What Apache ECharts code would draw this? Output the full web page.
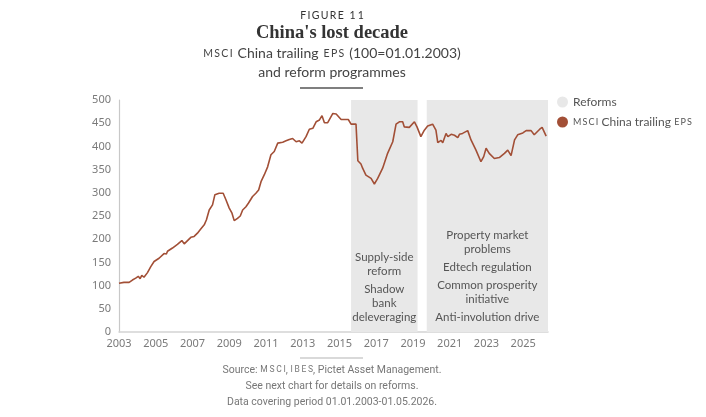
<!DOCTYPE html>
<html>
<head>
    <meta charset="UTF-8">
    <title>China's lost decade</title>
    <style type="text/css">
        body{
            margin:0;
            padding:0;
            background-color:white;
        }
        #main{
            width:706px;
            height:417px;
        }
    </style>
</head>
<body>
<div id="main"></div>
<script src="https://cdn.jsdelivr.net/npm/echarts@6/dist/echarts.min.js"></script>
<script type="text/javascript">

    // time as decimal years
    var years = [
        2003.00, 2003.09, 2003.27, 2003.55, 2003.73, 2003.91, 2004.05, 2004.15, 2004.24, 2004.36,
        2004.55, 2004.73, 2004.91, 2005.18, 2005.45, 2005.58, 2005.64, 2005.91, 2006.18, 2006.42,
        2006.55, 2006.73, 2006.91, 2007.09, 2007.27, 2007.45, 2007.64, 2007.76, 2007.91, 2008.00,
        2008.09, 2008.22, 2008.31, 2008.45, 2008.67, 2008.82, 2009.00, 2009.15, 2009.27, 2009.45,
        2009.60, 2009.73, 2009.91, 2010.05, 2010.27, 2010.45, 2010.60, 2010.73, 2010.91, 2011.09,
        2011.27, 2011.45, 2011.64, 2011.91, 2012.09, 2012.18, 2012.27, 2012.45, 2012.64, 2012.82,
        2012.96, 2013.18, 2013.36, 2013.55, 2013.73, 2013.91, 2014.05, 2014.18, 2014.36, 2014.64,
        2014.82, 2015.09, 2015.36, 2015.48, 2015.63, 2015.90, 2016.00, 2016.17, 2016.26, 2016.44,
        2016.72, 2016.90, 2017.08, 2017.35, 2017.62, 2017.90, 2018.08, 2018.26, 2018.44, 2018.53,
        2018.80, 2019.08, 2019.22, 2019.43, 2019.62, 2019.80, 2020.07, 2020.25, 2020.35, 2020.53,
        2020.62, 2020.80, 2020.90, 2021.08, 2021.26, 2021.44, 2021.53, 2021.70, 2021.98, 2022.16,
        2022.43, 2022.70, 2022.85, 2022.98, 2023.15, 2023.43, 2023.70, 2023.98, 2024.16, 2024.34,
        2024.53, 2024.70, 2024.98, 2025.16, 2025.43, 2025.60, 2025.90, 2026.03, 2026.25
    ];
    var eps = [
        105, 102, 107, 107, 112, 116, 120, 115, 122, 118,
        128, 141, 152, 159, 169, 168, 174, 181, 189, 197,
        190, 197, 204, 206, 213, 222, 231, 242, 263, 260,
        274, 296, 294, 299, 299, 285, 267, 256, 240, 245,
        250, 263, 270, 278, 292, 299, 306, 324, 339, 356,
        382, 389, 407, 409, 412, 408, 415, 417, 410, 412,
        407, 421, 437, 439, 453, 457, 466, 451, 451, 471,
        470, 458, 458, 458, 448, 448, 369, 362, 353, 338,
        331, 319, 331, 353, 385, 410, 448, 453, 453, 442,
        441, 453, 442, 421, 435, 444, 448, 435, 408, 413,
        408, 428, 421, 426, 424, 419, 426, 428, 434, 414,
        392, 367, 378, 396, 385, 374, 376, 385, 392, 380,
        414, 425, 429, 434, 434, 425, 437, 441, 422
    ];
    // reform periods [start, end]
    var reformPeriods = [[2015.63, 2019.25], [2019.75, 2026.35]];
    var reformLabels = [
        ['Supply-side', 'reform', '', 'Shadow', 'bank', 'deleveraging'],
        ['Property market', 'problems', '', 'Edtech regulation', '', 'Common prosperity', 'initiative', '', 'Anti-involution drive']
    ];
    var xMin = 2003, xMax = 2026.35;
    var yTicks = [0, 500, 50];

    var brown = '#a24f36';
    var band = '#e8e8e8';

    var lineData = years.map(function(y, i) { return [y, eps[i]]; });

    // blank entries become a thin spacer line between groups
    function bandText(lines) {
        return lines.map(function(t) { return t ? '{a|' + t + '}' : '{s| }'; }).join('\n');
    }

    var areas = reformPeriods.map(function(p, i) {
        return [{
            xAxis: p[0],
            label: {formatter: bandText(reformLabels[i])}
        }, {xAxis: p[1]}];
    });

    var noteFont = "'Liberation Sans Narrow', 'Roboto'";

    var myChart = echarts.init(document.getElementById('main'));
    var option = {
        animation: false,
        title: [{
            text: 'F\u2009I\u2009G\u2009U\u2009R\u2009E\u2002\u200a1\u2009\u200a1',
            left: 332,
            top: 10,
            padding: 0,
            textAlign: 'center',
            textStyle: {fontFamily: 'Lato', fontSize: 10.5, fontWeight: 'normal', color: '#333'}
        }, {
            text: "China's lost decade",
            left: 332,
            top: 24,
            padding: 0,
            textAlign: 'center',
            textStyle: {fontFamily: 'Liberation Serif', fontSize: 18.5, fontWeight: 'bold', color: '#333'}
        }, {
            text: '{sc|M\u2009S\u2009C\u2009I} {t|China trailing} {sc|E\u2009P\u2009S} {t|(100=01.01.2003)}\n{t|and reform programmes}',
            left: 332,
            top: 44,
            padding: 0,
            textAlign: 'center',
            textStyle: {
                fontWeight: 'normal',
                rich: {
                    t: {fontFamily: 'Lato', fontSize: 14, fontWeight: 'normal', color: '#444', lineHeight: 19},
                    sc: {fontFamily: 'Lato', fontSize: 10.5, fontWeight: 'normal', color: '#444', lineHeight: 19}
                }
            }
        }, {
            text: '{t|Source: }{sc|M\u2009S\u2009C\u2009I}{t|, }{sc|I\u2009B\u2009E\u2009S}{t|, Pictet Asset Management.}\n' +
                '{t|See next chart for details on reforms.}\n{t|Data covering period 01.01.2003-01.05.2026.}',
            left: 332,
            top: 362,
            padding: 0,
            textAlign: 'center',
            textStyle: {
                fontWeight: 'normal',
                rich: {
                    t: {fontFamily: noteFont, fontSize: 10.5, fontWeight: 'normal', color: '#777', lineHeight: 16},
                    sc: {fontFamily: noteFont, fontSize: 8.5, fontWeight: 'normal', color: '#777', lineHeight: 16}
                }
            }
        }],
        graphic: [{
            type: 'line',
            shape: {x1: 300, y1: 88, x2: 363, y2: 88},
            style: {stroke: '#555', lineWidth: 1.5}
        }, {
            type: 'line',
            shape: {x1: 300, y1: 358, x2: 363, y2: 358},
            style: {stroke: '#ccc', lineWidth: 1.5}
        }],
        legend: {
            orient: 'vertical',
            left: 552,
            top: 91,
            icon: 'circle',
            itemWidth: 11,
            itemHeight: 11,
            itemGap: 8,
            data: ['Reforms', 'MSCI China trailing EPS'],
            formatter: function(name) {
                if (name === 'Reforms') return '{t|Reforms}';
                return '{sc|M\u2009S\u2009C\u2009I} {t|China trailing} {sc|E\u2009P\u2009S}';
            },
            textStyle: {
                rich: {
                    t: {fontFamily: 'Lato', fontSize: 12, color: '#555'},
                    sc: {fontFamily: 'Lato', fontSize: 9, color: '#555'}
                }
            }
        },
        grid: {left: 119, right: 158, top: 100, bottom: 85},
        xAxis: {
            type: 'value',
            min: xMin,
            max: xMax,
            interval: 2,
            axisLine: {lineStyle: {color: '#d4d4d4', width: 1.5}},
            axisTick: {show: false},
            splitLine: {show: false},
            axisLabel: {
                showMaxLabel: false,
                margin: 6,
                fontFamily: 'Noto Sans',
                fontSize: 11,
                color: '#7a7a7a',
                formatter: function(v) { return String(v); }
            }
        },
        yAxis: {
            type: 'value',
            min: yTicks[0],
            max: yTicks[1],
            interval: yTicks[2],
            axisLine: {show: true, lineStyle: {color: '#c8c8c8', width: 1.2}},
            axisTick: {show: false},
            splitLine: {show: false},
            axisLabel: {margin: 8, fontFamily: 'Noto Sans', fontSize: 11, color: '#7a7a7a'}
        },
        series: [{
            name: 'Reforms',
            type: 'line',
            data: [],
            itemStyle: {color: band},
            markArea: {
                silent: true,
                itemStyle: {color: band},
                label: {
                    show: true,
                    position: 'insideBottom',
                    distance: 8,
                    align: 'center',
                    rich: {
                        a: {fontFamily: 'Lato', fontSize: 11.5, color: '#555', lineHeight: 14},
                        s: {fontSize: 1, lineHeight: 4}
                    }
                },
                data: areas
            }
        }, {
            name: 'MSCI China trailing EPS',
            type: 'line',
            data: lineData,
            showSymbol: false,
            itemStyle: {color: brown},
            lineStyle: {color: brown, width: 1.6},
            z: 3
        }]
    };
    myChart.setOption(option);
</script>
</body>
</html>
